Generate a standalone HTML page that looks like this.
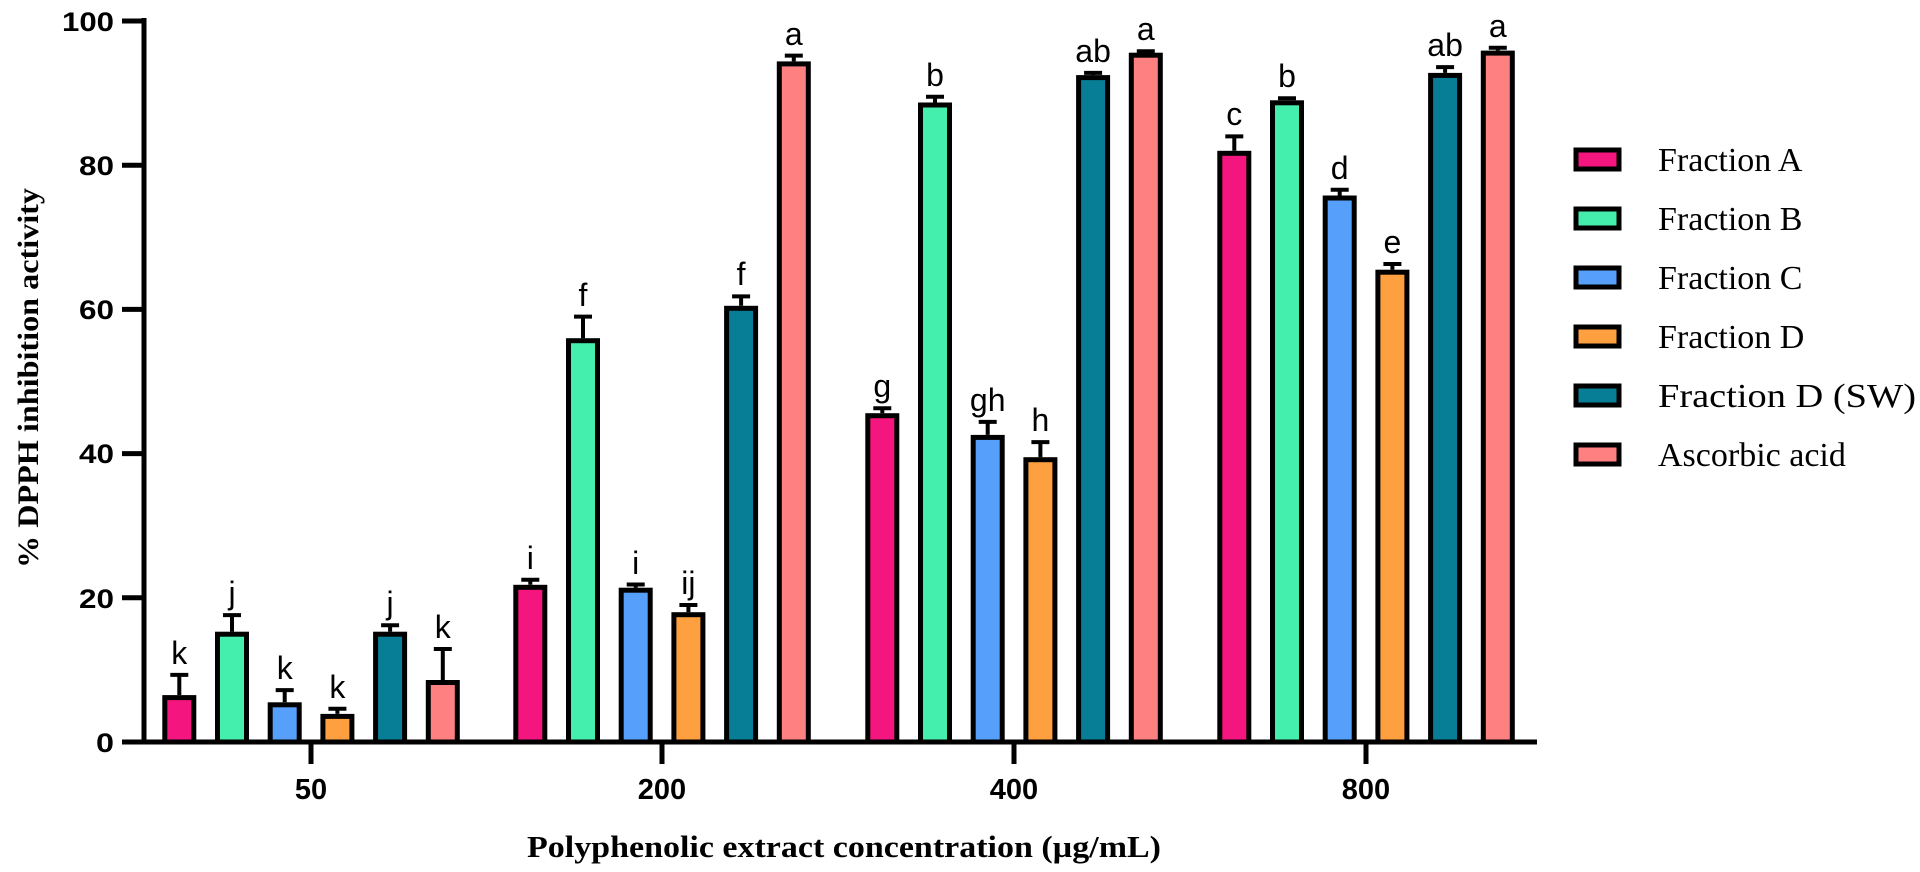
<!DOCTYPE html>
<html><head><meta charset="utf-8"><style>html,body{margin:0;padding:0;background:#fff}svg{display:block}</style></head>
<body>
<svg width="1920" height="872" viewBox="0 0 1920 872" xmlns="http://www.w3.org/2000/svg">
<g stroke="#000" stroke-width="5">
<rect x="164.8" y="697.6" width="29" height="44.4" fill="#F5157E"/>
<rect x="217.5" y="634.2" width="29" height="107.8" fill="#44EFAE"/>
<rect x="270.2" y="704.8" width="29" height="37.2" fill="#56A0FB"/>
<rect x="322.9" y="716.4" width="29" height="25.6" fill="#FFA040"/>
<rect x="375.6" y="634.2" width="29" height="107.8" fill="#087E96"/>
<rect x="428.3" y="682.5" width="29" height="59.5" fill="#FF8080"/>
<rect x="515.8" y="587.3" width="29" height="154.7" fill="#F5157E"/>
<rect x="568.5" y="340.7" width="29" height="401.3" fill="#44EFAE"/>
<rect x="621.2" y="590.2" width="29" height="151.8" fill="#56A0FB"/>
<rect x="673.9" y="614.7" width="29" height="127.3" fill="#FFA040"/>
<rect x="726.6" y="308.3" width="29" height="433.7" fill="#087E96"/>
<rect x="779.3" y="63.9" width="29" height="678.1" fill="#FF8080"/>
<rect x="867.8" y="415.7" width="29" height="326.3" fill="#F5157E"/>
<rect x="920.5" y="105.0" width="29" height="637" fill="#44EFAE"/>
<rect x="973.2" y="437.4" width="29" height="304.6" fill="#56A0FB"/>
<rect x="1025.9" y="459.7" width="29" height="282.3" fill="#FFA040"/>
<rect x="1078.6" y="77.6" width="29" height="664.4" fill="#087E96"/>
<rect x="1131.3" y="55.2" width="29" height="686.8" fill="#FF8080"/>
<rect x="1219.8" y="153.3" width="29" height="588.7" fill="#F5157E"/>
<rect x="1272.5" y="102.8" width="29" height="639.2" fill="#44EFAE"/>
<rect x="1325.2" y="198.0" width="29" height="544" fill="#56A0FB"/>
<rect x="1377.9" y="272.2" width="29" height="469.8" fill="#FFA040"/>
<rect x="1430.6" y="75.4" width="29" height="666.6" fill="#087E96"/>
<rect x="1483.3" y="53.1" width="29" height="688.9" fill="#FF8080"/>
</g>
<g stroke="#000" stroke-width="4" fill="none">
<path d="M179.3 695V674.9M170.3 674.9H188.3"/>
<path d="M232 631.7V615.1M223 615.1H241"/>
<path d="M284.7 702.3V690.1M275.7 690.1H293.7"/>
<path d="M337.4 713.9V708.8M328.4 708.8H346.4"/>
<path d="M390.1 631.7V625.2M381.1 625.2H399.1"/>
<path d="M442.8 680V649M433.8 649H451.8"/>
<path d="M530.3 584.8V579.8M521.3 579.8H539.3"/>
<path d="M583 338.2V316.6M574 316.6H592"/>
<path d="M635.7 587.7V584.5M626.7 584.5H644.7"/>
<path d="M688.4 612.2V605M679.4 605H697.4"/>
<path d="M741.1 305.8V296.4M732.1 296.4H750.1"/>
<path d="M793.8 61.4V55.6M784.8 55.6H802.8"/>
<path d="M882.3 413.2V408.2M873.3 408.2H891.3"/>
<path d="M935 102.5V96.7M926 96.7H944"/>
<path d="M987.7 434.9V421.9M978.7 421.9H996.7"/>
<path d="M1040.4 457.2V442.1M1031.4 442.1H1049.4"/>
<path d="M1093.1 75.1V72.9M1084.1 72.9H1102.1"/>
<path d="M1145.8 52.7V51.3M1136.8 51.3H1154.8"/>
<path d="M1234.3 150.8V136.4M1225.3 136.4H1243.3"/>
<path d="M1287 100.3V98.2M1278 98.2H1296"/>
<path d="M1339.7 195.5V189.7M1330.7 189.7H1348.7"/>
<path d="M1392.4 269.7V264M1383.4 264H1401.4"/>
<path d="M1445.1 72.9V67.1M1436.1 67.1H1454.1"/>
<path d="M1497.8 50.6V47.7M1488.8 47.7H1506.8"/>
</g>
<g font-family="Liberation Sans, sans-serif" font-size="32" text-anchor="middle" fill="#000">
<text x="179.3" y="664">k</text><text x="232" y="604">j</text><text x="284.7" y="679">k</text><text x="337.4" y="698">k</text><text x="390.1" y="614">j</text><text x="442.8" y="638">k</text>
<text x="530.3" y="569">i</text><text x="583" y="306">f</text><text x="635.7" y="574">i</text><text x="688.4" y="594">ij</text><text x="741.1" y="285">f</text><text x="793.8" y="45">a</text>
<text x="882.3" y="397">g</text><text x="935" y="86">b</text><text x="987.7" y="411">gh</text><text x="1040.4" y="431">h</text><text x="1093.1" y="62">ab</text><text x="1145.8" y="40">a</text>
<text x="1234.3" y="125">c</text><text x="1287" y="87">b</text><text x="1339.7" y="179">d</text><text x="1392.4" y="253">e</text><text x="1445.1" y="56">ab</text><text x="1497.8" y="37">a</text>
</g>
<g stroke="#000" stroke-width="5" fill="none">
<path d="M144 18V744"/>
<path d="M141.5 742H1537"/>
<path d="M122 21H144M122 165.2H144M122 309.4H144M122 453.6H144M122 597.8H144M122 742H144"/>
<path d="M311 742V764M662 742V764M1014 742V764M1366 742V764"/>
</g>
<g font-family="Liberation Sans, sans-serif" font-weight="bold" font-size="27" text-anchor="end" fill="#000">
<text x="114" y="31" textLength="52" lengthAdjust="spacingAndGlyphs">100</text>
<text x="114" y="175" textLength="35" lengthAdjust="spacingAndGlyphs">80</text>
<text x="114" y="319" textLength="35" lengthAdjust="spacingAndGlyphs">60</text>
<text x="114" y="463" textLength="35" lengthAdjust="spacingAndGlyphs">40</text>
<text x="114" y="608" textLength="35" lengthAdjust="spacingAndGlyphs">20</text>
<text x="114" y="752" textLength="18" lengthAdjust="spacingAndGlyphs">0</text>
</g>
<g font-family="Liberation Sans, sans-serif" font-weight="bold" font-size="29" text-anchor="middle" fill="#000">
<text x="311" y="799">50</text><text x="662" y="799">200</text><text x="1014" y="799">400</text><text x="1366" y="799">800</text>
</g>
<text x="844" y="857" font-family="Liberation Serif, serif" font-weight="bold" font-size="31" text-anchor="middle" textLength="634" lengthAdjust="spacingAndGlyphs">Polyphenolic extract concentration (µg/mL)</text>
<text transform="translate(38,378) rotate(-90)" font-family="Liberation Serif, serif" font-weight="bold" font-size="30" text-anchor="middle" textLength="380" lengthAdjust="spacingAndGlyphs">% DPPH inhibition activity</text>
<g stroke="#000" stroke-width="5">
<rect x="1576" y="150" width="43" height="19" fill="#F5157E"/>
<rect x="1576" y="209" width="43" height="19" fill="#44EFAE"/>
<rect x="1576" y="268" width="43" height="19" fill="#56A0FB"/>
<rect x="1576" y="327" width="43" height="19" fill="#FFA040"/>
<rect x="1576" y="386" width="43" height="19" fill="#087E96"/>
<rect x="1576" y="445" width="43" height="19" fill="#FF8080"/>
</g>
<g font-family="Liberation Serif, serif" font-size="34" fill="#000">
<text x="1658" y="171">Fraction A</text>
<text x="1658" y="230">Fraction B</text>
<text x="1658" y="289">Fraction C</text>
<text x="1658" y="348">Fraction D</text>
<text x="1658" y="407" textLength="258" lengthAdjust="spacingAndGlyphs">Fraction D (SW)</text>
<text x="1658" y="466">Ascorbic acid</text>
</g>
</svg>
</body></html>
